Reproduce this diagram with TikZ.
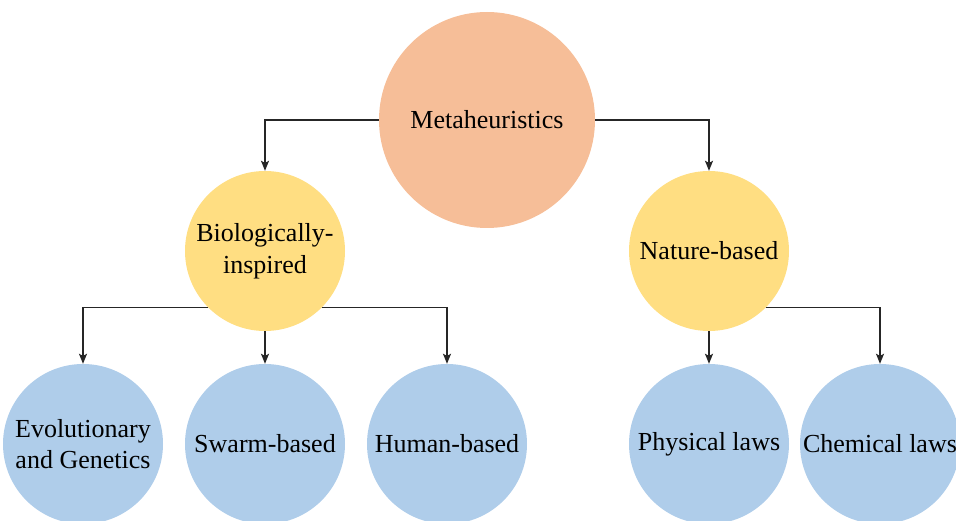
\documentclass[tikz,border=0pt]{standalone}
\usepackage{fontspec}
\setmainfont{Liberation Serif}
\usetikzlibrary{positioning,arrows.meta}

\definecolor{metacol}{RGB}{246,190,152}
\definecolor{midcol}{RGB}{255,222,130}
\definecolor{leafcol}{RGB}{175,205,234}

\begin{document}
\begin{tikzpicture}[on grid,
    circ/.style={circle,inner sep=0pt,align=center,font=\fontsize{26}{31.5}\selectfont},
    top/.style={circ,fill=metacol,minimum size=216pt},
    mid/.style={circ,fill=midcol,minimum size=160pt},
    leaf/.style={circ,fill=leafcol,minimum size=160pt},
    link/.style={-{Stealth[length=10pt,width=8pt,inset=2pt]},line width=1.2pt,draw=black!85}]
    \useasboundingbox (0,0) rectangle (956pt,-521pt);

    \node[top]  (meta) at (487pt,-120pt) {Metaheuristics};
    \node[mid]  (bio)  [below left=131pt and 222pt of meta]  {Biologically-\\inspired};
    \node[mid]  (nat)  [below right=131pt and 222pt of meta] {Nature-based};
    \node[leaf] (swarm) [below=193pt of bio]    {Swarm-based};
    \node[leaf] (evol)  [left=182pt of swarm]   {Evolutionary\\and Genetics};
    \node[leaf] (human) [right=182pt of swarm]  {Human-based};
    \node[leaf] (phys)  [below=193pt of nat]    {Physical laws};
    \node[leaf] (chem)  [right=171pt of phys]   {Chemical laws};

    \draw[link] (meta.west) -| (bio.north);
    \draw[link] (meta.east) -| (nat.north);
    \draw[link] (bio.-135) -| (evol.north);
    \draw[link] (bio.south) -- (swarm.north);
    \draw[link] (bio.-45) -| (human.north);
    \draw[link] (nat.south) -- (phys.north);
    \draw[link] (nat.-45) -| (chem.north);
\end{tikzpicture}
\end{document}
